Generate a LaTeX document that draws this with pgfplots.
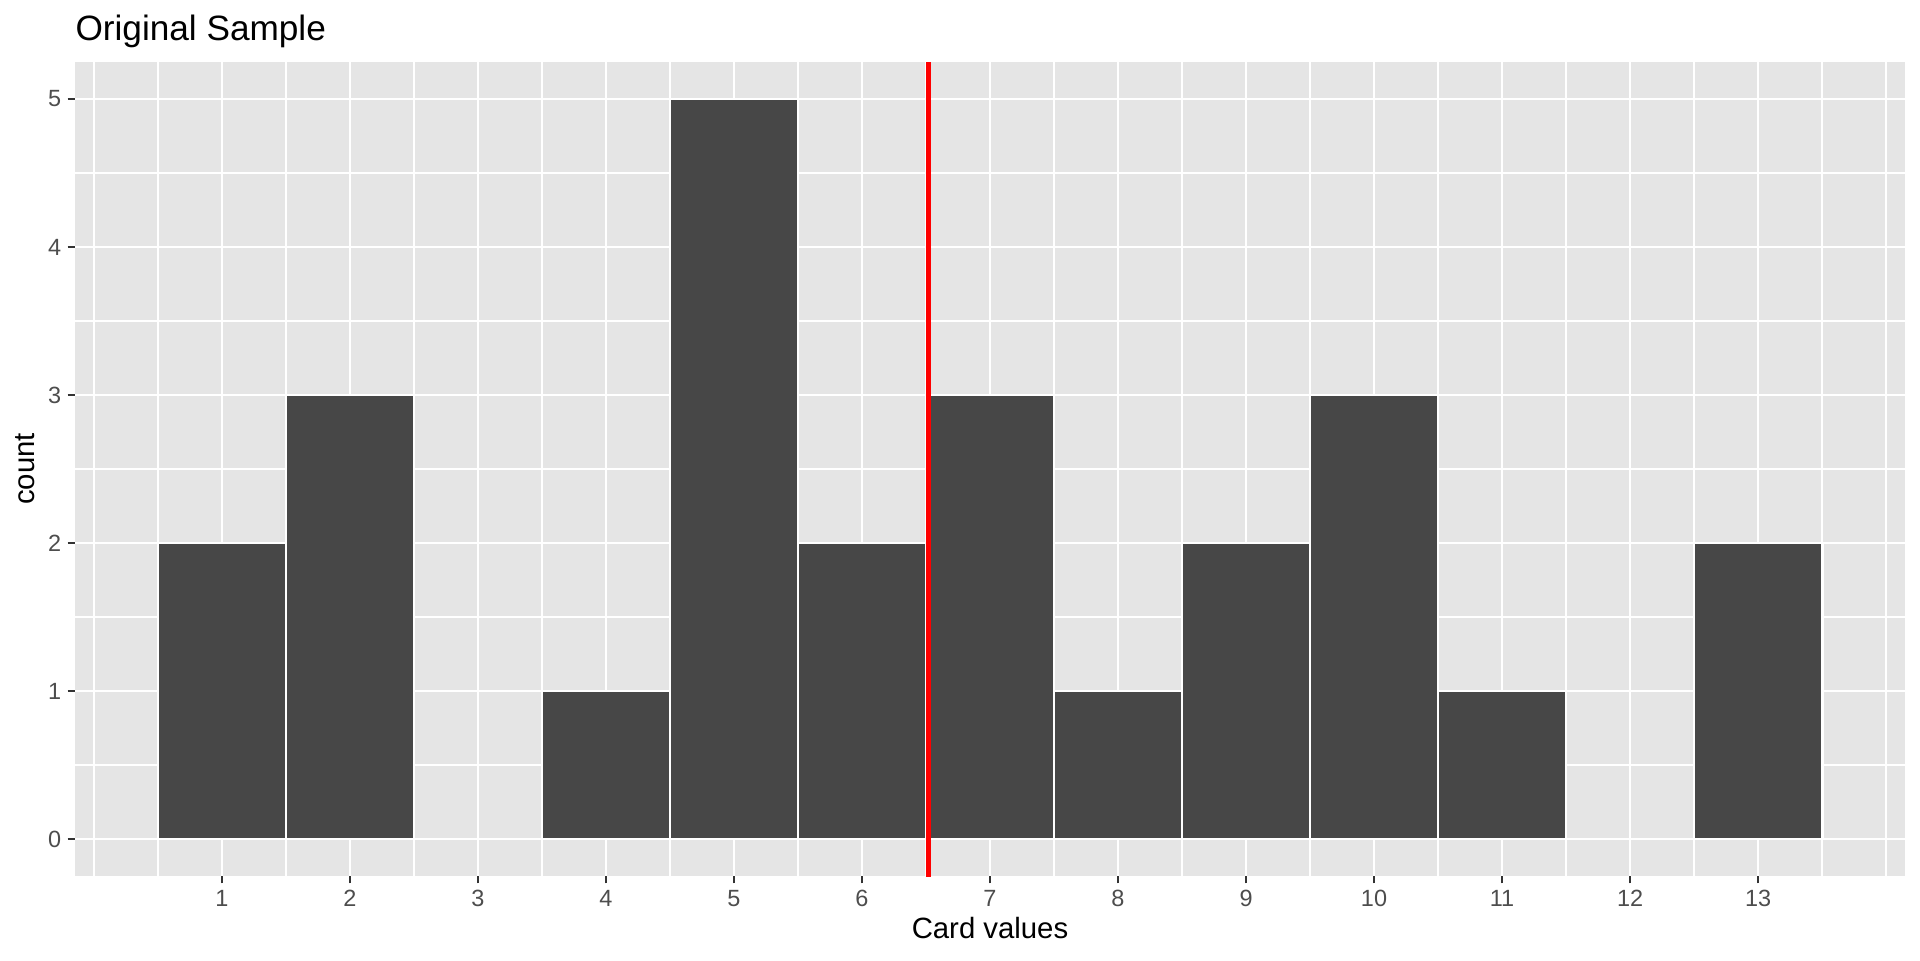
\documentclass[border=0pt]{standalone}
\usepackage{fontspec}
\setmainfont{Liberation Sans}
\usepackage{pgfplots}
\pgfplotsset{compat=1.18}
\definecolor{panelbg}{HTML}{E5E5E5}
\definecolor{barfill}{HTML}{474747}
\definecolor{ticktext}{HTML}{4D4D4D}
\definecolor{tickcol}{HTML}{333333}
\begin{document}
\begin{tikzpicture}
\path[use as bounding box] (0,0) rectangle (720pt,360pt);
\begin{axis}[
  at={(28.125pt,31.5pt)}, anchor=south west,
  scale only axis, width=686.25pt, height=305.25pt,
  xmin=-0.148, xmax=14.148, ymin=-0.25, ymax=5.25,
  axis background/.style={fill=panelbg},
  axis line style={draw=none},
  xtick={1,2,...,13}, ytick={0,1,2,3,4,5},
  minor xtick={0,0.5,1.5,2.5,3.5,4.5,5.5,6.5,7.5,8.5,9.5,10.5,11.5,12.5,13.5,14},
  minor ytick={0.5,1.5,2.5,3.5,4.5},
  grid=both,
  major grid style={white, line width=1.07pt},
  minor grid style={white, line width=0.53pt},
  xtick pos=bottom, ytick pos=left,
  tick align=outside,
  major tick length=2.75pt, minor tick length=0pt,
  tick style={tickcol, line width=1.07pt},
  /pgf/number format/assume math mode=true,
  ticklabel style={font=\fontsize{8.8}{10}\selectfont, text=ticktext, inner sep=0pt},
  xticklabel style={anchor=north, yshift=-2.5pt},
  yticklabel style={anchor=east, xshift=-2.2pt},
  clip=true,
]
\addplot[ybar, bar width=1, bar shift=0pt, fill=barfill, draw=white, line width=1.07pt] coordinates {
  (1,2) (2,3) (3,0) (4,1) (5,5) (6,2) (7,3) (8,1) (9,2) (10,3) (11,1) (12,0) (13,2)
};
\addplot[color=red, line width=2pt] coordinates {(6.52,-0.5) (6.52,5.5)};
\end{axis}
\node[anchor=base west, inner sep=0pt, font=\fontsize{13.2}{15}\selectfont] at (28.125pt,345pt) {Original Sample};
\node[anchor=base, inner sep=0pt, font=\fontsize{11}{13}\selectfont] at (371.25pt,8.25pt) {Card values};
\node[anchor=base, rotate=90, inner sep=0pt, font=\fontsize{11}{13}\selectfont] at (13.1pt,184.1pt) {count};
\end{tikzpicture}
\end{document}
